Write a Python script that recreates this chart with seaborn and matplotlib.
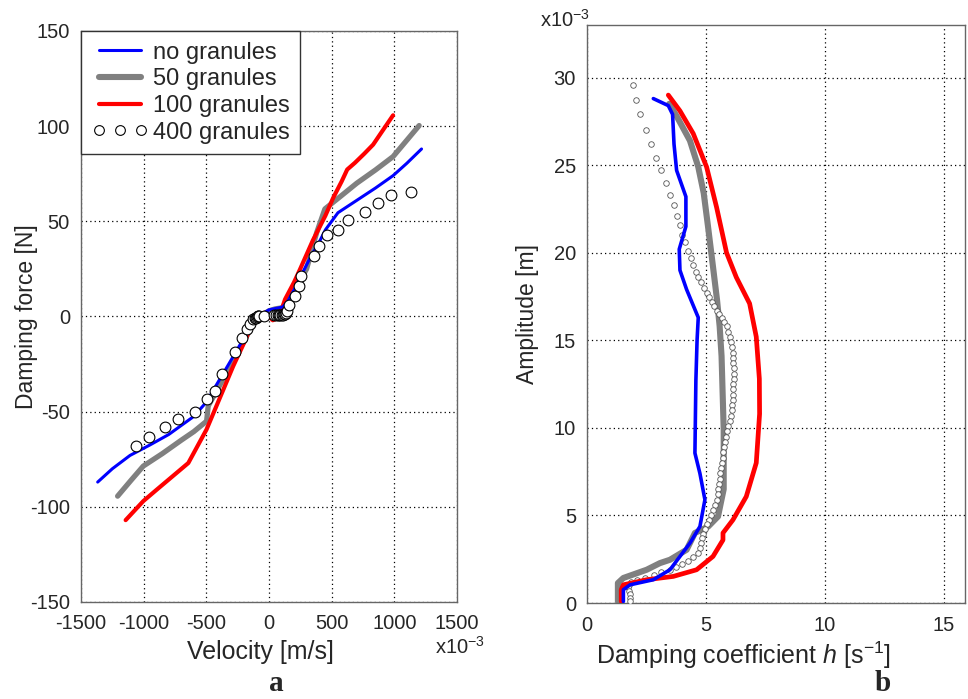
import numpy as np
import pandas as pd
import matplotlib
matplotlib.use('Agg')
import matplotlib.pyplot as plt
from matplotlib.lines import Line2D
import seaborn as sns

# ---- panel a: damping force vs velocity (velocity in 1e-3 m/s) ----
vel_none = [-1367, -1250, -1109, -950, -800, -600, -500, -420, -330, -250, -180, -130, -100, -60, 0,
            60, 110, 150, 200, 260, 330, 400, 450, 550, 700, 850, 990, 1100, 1217]
force_none = [-87, -80, -73, -67.5, -62, -52.5, -45, -36, -26, -17, -9, -4, -1.5, 1, 3.5,
              4.3, 5, 8, 14, 22, 31, 39, 45.5, 54.5, 61, 67.5, 74, 80.5, 88]

vel_50 = [-1208, -1100, -1003, -850, -700, -600, -498, -485, -400, -300, -200, -130, -100, -50, 0,
          50, 100, 130, 200, 300, 380, 446, 550, 700, 850, 990, 1198]
force_50 = [-94.4, -86, -78.6, -72, -65, -60.5, -55, -47, -37, -25, -13, -4.5, -1.5, 1, 3,
            4, 4.5, 6, 13, 25, 44, 56.5, 62, 70, 77, 84, 100.3]

vel_100 = [-1144, -1003, -896, -644, -498, -400, -285, -200, -130, -98, -60, -30, 0, 30, 60,
           101, 128, 200, 247, 350, 450, 512, 580, 624, 685, 760, 831, 900, 990]
force_100 = [-107, -97, -91, -77, -59.3, -44, -26, -14, -3.5, 1, 1.5, 2, 0, -2, -1,
             3.7, 9, 18, 24.7, 40, 53, 62.3, 71, 77.2, 80.7, 85.5, 90.3, 97, 105.7]

vel_400 = [-1061, -955, -828, -729, -594, -495, -434, -373, -274, -219, -179, -152, -126, -115,
           -105, -98, -90, -84, -78, -40, 40, 55, 68, 80, 90, 100, 110, 118, 126, 134, 145,
           161, 206, 241, 252, 358, 401, 459, 547, 631, 762, 871, 977, 1131]
force_400 = [-68.1, -63.4, -58.1, -53.7, -50, -43.6, -39.4, -30.3, -18.5, -11.2, -6.5, -4.2, -1.2, -0.8,
             -0.6, -0.3, 0, 0.2, 0.3, 0, 0.8, 1, 0.8, 0.6, 0.6, 0.8, 1.0, 1.2, 1.5, 2, 3,
             5.8, 11, 15.9, 21.5, 31.7, 36.9, 43, 45.3, 50.6, 54.8, 59.5, 64, 65.3]

# ---- panel b: amplitude (1e-3 m) vs damping coefficient h ----
h_none = [2.79, 3.42, 3.6, 3.66, 3.77, 4.16, 4.16, 3.88, 3.91, 4.19, 4.68, 4.63, 4.58, 4.54,
          4.75, 4.96, 4.75, 4.33, 3.91, 3.49, 2.79, 1.81, 1.53, 1.53]
amp_none = [28.8, 28.4, 27.9, 26.2, 24.7, 23.2, 21.5, 20.2, 19.0, 17.9, 16.3, 15.0, 12.7, 8.56,
            7.4, 5.9, 4.37, 3.42, 2.66, 1.9, 1.33, 1.04, 0.76, 0.09]

h_50 = [3.46, 3.77, 4.33, 4.68, 4.91, 5.09, 5.3, 5.47, 5.58, 5.66, 5.75, 5.75, 5.51, 5.1,
        4.54, 4.19, 3.49, 3.07, 2.51, 1.53, 1.3, 1.3]
amp_50 = [28.5, 27.8, 26.4, 24.9, 23.4, 21.5, 19.2, 17.3, 15.8, 14.1, 9.9, 6.5, 4.94, 4.37,
          4.0, 3.04, 2.47, 2.28, 1.9, 1.43, 1.14, 0.09]

h_100 = [3.42, 3.91, 4.47, 5.03, 5.45, 5.87, 6.28, 6.84, 7.12, 7.25, 7.26, 7.12, 6.7, 6.14,
         5.72, 5.72, 5.3, 4.61, 3.63, 2.51, 1.53, 1.44, 1.44]
amp_100 = [29.0, 28.1, 26.8, 24.9, 22.6, 20.0, 18.6, 17.1, 15.2, 12.8, 10.8, 8.0, 6.08, 4.75,
           4.0, 3.6, 2.66, 1.9, 1.52, 1.33, 1.04, 0.76, 0.09]

h_400 = [1.93, 2.07, 2.23, 2.47, 2.68, 2.9, 3.11, 3.31, 3.49, 3.64, 3.78, 3.9, 3.99, 4.13, 4.24,
         4.36, 4.47, 4.58, 4.69, 4.8, 4.92, 5.03, 5.13, 5.24, 5.35, 5.45, 5.56, 5.66, 5.77, 5.87,
         5.94, 6.0, 6.05, 6.1, 6.13, 6.15, 6.16, 6.17, 6.17, 6.17, 6.16, 6.15, 6.14, 6.13, 6.12,
         6.1, 6.06, 6.0, 5.95, 5.9, 5.85, 5.8, 5.76, 5.73, 5.7, 5.67, 5.64, 5.61, 5.58, 5.55,
         5.52, 5.49, 5.45, 5.4, 5.3, 5.22, 5.15, 5.05, 4.96, 4.9, 4.85, 4.8, 4.74, 4.68, 4.45,
         4.25, 4.0, 3.75, 3.5, 3.1, 2.8, 2.45, 2.1, 1.85, 1.75, 1.74, 1.77, 1.79, 1.8, 1.81]
amp_400 = [29.6, 28.7, 27.9, 27.0, 26.2, 25.4, 24.7, 24.0, 23.3, 22.7, 22.1, 21.6, 21.0, 20.6, 20.1,
           19.7, 19.3, 18.9, 18.6, 18.3, 18.0, 17.7, 17.45, 17.2, 16.95, 16.7, 16.5, 16.3, 16.05, 15.8,
           15.5, 15.2, 14.9, 14.6, 14.3, 14.0, 13.7, 13.4, 13.1, 12.8, 12.5, 12.2, 11.9, 11.6, 11.3,
           11.0, 10.7, 10.4, 10.1, 9.8, 9.5, 9.2, 8.9, 8.6, 8.3, 8.0, 7.7, 7.4, 7.1, 6.8,
           6.5, 6.2, 5.9, 5.6, 5.3, 5.0, 4.75, 4.5, 4.2, 3.95, 3.7, 3.42, 3.15, 2.85, 2.6,
           2.4, 2.2, 2.05, 1.9, 1.75, 1.6, 1.45, 1.33, 1.2, 1.05, 0.9, 0.7, 0.5, 0.3, 0.1]

labels = ['no granules', '50 granules', '100 granules', '400 granules']
colors = ['#0000ff', '#808080', '#ff0000']
widths = [2.2, 3.8, 3.0]

sns.set_theme(style='white')
plt.rcParams['font.family'] = ['Liberation Sans', 'DejaVu Sans']
plt.rcParams['axes.unicode_minus'] = False
plt.rcParams['mathtext.fontset'] = 'custom'
plt.rcParams['mathtext.rm'] = 'Liberation Sans'
plt.rcParams['mathtext.it'] = 'Liberation Sans:italic'

fig = plt.figure(figsize=(9.68, 6.99), dpi=100)
ax1 = fig.add_axes([0.0837, 0.1388, 0.3884, 0.8169])
ax2 = fig.add_axes([0.6064, 0.1373, 0.3905, 0.8269])

grid_kw = dict(color='black', linestyle=(0, (1, 2.5)), linewidth=0.9)

# panel a
sns.lineplot(x=vel_50, y=force_50, sort=False, estimator=None, color=colors[1], lw=widths[1], ax=ax1)
sns.lineplot(x=vel_100, y=force_100, sort=False, estimator=None, color=colors[2], lw=widths[2], ax=ax1)
sns.lineplot(x=vel_none, y=force_none, sort=False, estimator=None, color=colors[0], lw=widths[0], ax=ax1)
sns.scatterplot(x=vel_400, y=force_400, marker='o', s=60, facecolor='white', edgecolor='black',
                linewidth=0.8, ax=ax1, zorder=5)
ax1.set_xlim(-1500, 1500)
ax1.set_ylim(-150, 150)
ax1.set_xticks([-1500, -1000, -500, 0, 500, 1000, 1500])
ax1.set_yticks([-150, -100, -50, 0, 50, 100, 150])
ax1.grid(True, **grid_kw)
ax1.set_ylabel('Damping force [N]', fontsize=16.5)
ax1.yaxis.set_label_coords(-0.114, 0.5)
ax1.set_xlabel('Velocity [m/s]', fontsize=18)
ax1.xaxis.set_label_coords(0.476, -0.066)
ax1.text(1.008, -0.079, r'x10$^{-3}$', transform=ax1.transAxes, fontsize=14.5,
         ha='center', va='center')

handles = [Line2D([], [], color=colors[0], lw=widths[0]),
           Line2D([], [], color=colors[1], lw=widths[1] + 0.6),
           Line2D([], [], color=colors[2], lw=widths[2]),
           Line2D([], [], linestyle='none', marker='o', markersize=7, markerfacecolor='white',
                  markeredgecolor='black', markeredgewidth=0.8)]
leg = ax1.legend(handles, labels, loc='upper left', borderaxespad=0, fancybox=False,
                 framealpha=1, edgecolor='#333333', fontsize=17, handlelength=2.4,
                 handletextpad=0.2, numpoints=3, labelspacing=0.2, borderpad=0.45)
leg.get_frame().set_linewidth(1.0)

# panel b
sns.lineplot(x=h_50, y=amp_50, sort=False, estimator=None, color=colors[1], lw=widths[1] + 0.6, ax=ax2)
sns.scatterplot(x=h_400, y=amp_400, marker='o', s=16, facecolor='white', edgecolor='#555555',
                linewidth=0.6, ax=ax2, zorder=3)
sns.lineplot(x=h_100, y=amp_100, sort=False, estimator=None, color=colors[2], lw=widths[2] + 0.4, ax=ax2)
sns.lineplot(x=h_none, y=amp_none, sort=False, estimator=None, color=colors[0], lw=widths[0] + 0.4, ax=ax2)
for ln in ax2.lines:
    ln.set_zorder(4)
ax2.lines[0].set_zorder(2)
ax2.set_xlim(0, 15.9)
ax2.set_ylim(0, 33)
ax2.set_xticks([0, 5, 10, 15])
ax2.set_yticks([0, 5, 10, 15, 20, 25, 30])
ax2.grid(True, **grid_kw)
ax2.set_ylabel('Amplitude [m]', fontsize=16.5)
ax2.yaxis.set_label_coords(-0.127, 0.5)
ax2.set_xlabel(r'Damping coefficient $h$ [s$^{-1}$]', fontsize=18)
ax2.xaxis.set_label_coords(0.413, -0.064)
ax2.text(0.008, 1.009, r'x10$^{-3}$', transform=ax2.transAxes, fontsize=14.5,
         ha='right', va='center')

for ax in (ax1, ax2):
    for sp in ax.spines.values():
        sp.set_color('#666666')
        sp.set_linewidth(1.0)
    ax.tick_params(direction='in', length=3, color='#666666', labelsize=14.5)
    ax.tick_params(axis='x', pad=9)
    ax.tick_params(axis='y', pad=8)

# panel letters
fig.text(0.285, 0.012, 'a', family='Liberation Serif', fontweight='bold', fontsize=21,
         ha='center', va='baseline')
fig.text(0.912, 0.012, 'b', family='Liberation Serif', fontweight='bold', fontsize=21,
         ha='center', va='baseline')

fig.savefig('out.png', dpi=100)
